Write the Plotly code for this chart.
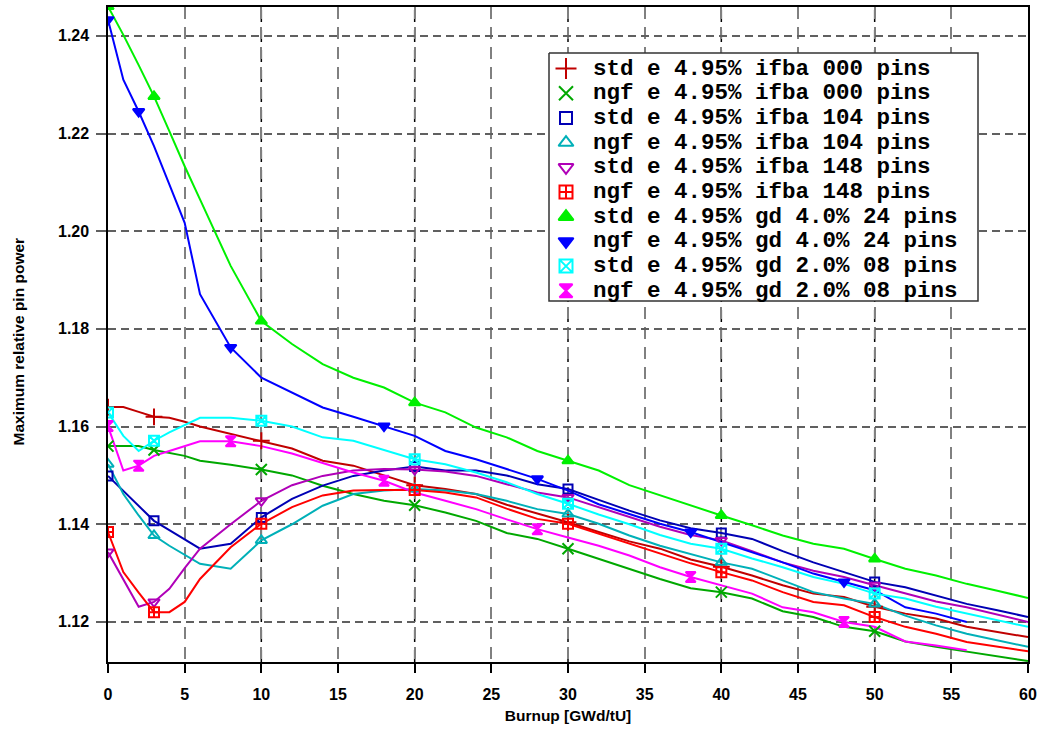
import plotly.graph_objects as go

# ---------------- data ----------------
burnup = [0, 1, 2, 3, 4, 5, 6, 8, 10, 12, 14, 16, 18, 20, 22, 24, 26, 28, 30,
          32, 34, 36, 38, 40, 42, 44, 46, 48, 50, 52, 54, 56, 58, 60]
burnup_56 = burnup[:-2]

std_ifba000 = [1.1640, 1.1640, 1.1630, 1.1620, 1.1618, 1.1610, 1.1600, 1.1585, 1.1571, 1.1555,
               1.1530, 1.1520, 1.1500, 1.1480, 1.1472, 1.1462, 1.1440, 1.1422, 1.1404, 1.1384,
               1.1365, 1.1350, 1.1328, 1.1313, 1.1295, 1.1275, 1.1258, 1.1251, 1.1231, 1.1217,
               1.1207, 1.1190, 1.1179, 1.1169]
ngf_ifba000 = [1.1560, 1.1560, 1.1560, 1.1552, 1.1546, 1.1540, 1.1530, 1.1522, 1.1512, 1.1500,
               1.1479, 1.1462, 1.1448, 1.1439, 1.1424, 1.1407, 1.1382, 1.1370, 1.1350, 1.1329,
               1.1309, 1.1288, 1.1269, 1.1261, 1.1248, 1.1222, 1.1210, 1.1190, 1.1181, 1.1160,
               1.1149, 1.1139, 1.1130, 1.1120]
std_ifba104 = [1.1499, 1.1469, 1.1438, 1.1407, 1.1388, 1.1369, 1.1350, 1.1360, 1.1414, 1.1452,
               1.1479, 1.1499, 1.1510, 1.1518, 1.1510, 1.1510, 1.1500, 1.1482, 1.1472, 1.1450,
               1.1428, 1.1408, 1.1392, 1.1382, 1.1370, 1.1345, 1.1322, 1.1302, 1.1282, 1.1271,
               1.1254, 1.1237, 1.1224, 1.1210]
ngf_ifba104 = [1.1523, 1.1462, 1.1418, 1.1377, 1.1356, 1.1337, 1.1319, 1.1309, 1.1367, 1.1400,
               1.1438, 1.1462, 1.1469, 1.1472, 1.1469, 1.1462, 1.1448, 1.1431, 1.1421, 1.1401,
               1.1377, 1.1356, 1.1339, 1.1322, 1.1309, 1.1285, 1.1261, 1.1248, 1.1237, 1.1213,
               1.1193, 1.1176, 1.1162, 1.1149]
std_ifba148 = [1.1343, 1.1288, 1.1231, 1.1241, 1.1268, 1.1310, 1.1350, 1.1400, 1.1448, 1.1480,
               1.1499, 1.1510, 1.1513, 1.1512, 1.1508, 1.1499, 1.1482, 1.1465, 1.1455, 1.1435,
               1.1415, 1.1395, 1.1378, 1.1367, 1.1345, 1.1322, 1.1305, 1.1292, 1.1275, 1.1258,
               1.1242, 1.1230, 1.1215, 1.1200]
ngf_ifba148 = [1.1384, 1.1302, 1.1260, 1.1220, 1.1220, 1.1241, 1.1288, 1.1353, 1.1401, 1.1435,
               1.1459, 1.1469, 1.1470, 1.1470, 1.1465, 1.1455, 1.1432, 1.1411, 1.1401, 1.1381,
               1.1360, 1.1340, 1.1320, 1.1302, 1.1285, 1.1261, 1.1241, 1.1234, 1.1210, 1.1190,
               1.1176, 1.1159, 1.1149, 1.1140]
std_gd4_24 = [1.2460, 1.2402, 1.2340, 1.2276, 1.2205, 1.2133, 1.2065, 1.1929, 1.1816, 1.1769,
              1.1728, 1.1700, 1.1680, 1.1649, 1.1629, 1.1598, 1.1578, 1.1550, 1.1530, 1.1510,
              1.1480, 1.1459, 1.1438, 1.1418, 1.1398, 1.1377, 1.1360, 1.1350, 1.1329, 1.1309,
              1.1295, 1.1278, 1.1264, 1.1249]
ngf_gd4_24 = [1.2433, 1.2310, 1.2245, 1.2174, 1.2096, 1.2017, 1.1871, 1.1762, 1.1700, 1.1670,
              1.1639, 1.1620, 1.1601, 1.1581, 1.1550, 1.1533, 1.1513, 1.1493, 1.1469, 1.1441,
              1.1421, 1.1401, 1.1384, 1.1363, 1.1343, 1.1322, 1.1299, 1.1282, 1.1265, 1.1230,
              1.1217, 1.1200]
std_gd2_08 = [1.1629, 1.1581, 1.1550, 1.1571, 1.1588, 1.1603, 1.1618, 1.1618, 1.1612, 1.1600,
              1.1578, 1.1571, 1.1552, 1.1533, 1.1523, 1.1506, 1.1486, 1.1462, 1.1442, 1.1420,
              1.1400, 1.1378, 1.1360, 1.1350, 1.1330, 1.1312, 1.1292, 1.1278, 1.1258, 1.1248,
              1.1231, 1.1217, 1.1203, 1.1190]
ngf_gd2_08 = [1.1601, 1.1510, 1.1520, 1.1540, 1.1550, 1.1560, 1.1570, 1.1570, 1.1560, 1.1545,
              1.1525, 1.1506, 1.1489, 1.1465, 1.1448, 1.1431, 1.1410, 1.1390, 1.1373, 1.1356,
              1.1336, 1.1312, 1.1292, 1.1275, 1.1258, 1.1230, 1.1220, 1.1200, 1.1190, 1.1160,
              1.1152, 1.1142]

marks_a = [0, 3, 10, 20, 30, 40, 50]
marks_b = [0, 2, 8, 18, 28, 38, 48]

labels = ["std e 4.95% ifba 000 pins", "ngf e 4.95% ifba 000 pins",
          "std e 4.95% ifba 104 pins", "ngf e 4.95% ifba 104 pins",
          "std e 4.95% ifba 148 pins", "ngf e 4.95% ifba 148 pins",
          "std e 4.95% gd 4.0% 24 pins", "ngf e 4.95% gd 4.0% 24 pins",
          "std e 4.95% gd 2.0% 08 pins", "ngf e 4.95% gd 2.0% 08 pins"]

x_ticks = list(range(0, 61, 5))
y_ticks = [1.12, 1.14, 1.16, 1.18, 1.20, 1.22, 1.24]
x_title = "Burnup [GWd/tU]"
y_title = "Maximum relative pin power"

# ---------------- styles ----------------
series = [
    (burnup, std_ifba000, marks_a, "#c00000", "cross-thin", 12),
    (burnup, ngf_ifba000, marks_a, "#00a800", "x-thin", 11),
    (burnup, std_ifba104, marks_a, "#0000b4", "square-open", 9),
    (burnup, ngf_ifba104, marks_a, "#00b0b8", "triangle-up-open", 10),
    (burnup, std_ifba148, marks_a, "#b000b8", "triangle-down-open", 10),
    (burnup, ngf_ifba148, marks_a, "#ff0000", "square-cross-open", 10),
    (burnup, std_gd4_24, marks_a, "#00f000", "triangle-up", 10),
    (burnup_56, ngf_gd4_24, marks_b, "#0000ff", "triangle-down", 10),
    (burnup, std_gd2_08, marks_a, "#00ffff", "square-x-open", 10),
    (burnup_56, ngf_gd2_08, marks_b, "#ff00ff", "hourglass", 10),
]

fig = go.Figure()
for (xs, ys, mk, col, sym, sz), name in zip(series, labels):
    fig.add_trace(go.Scatter(x=xs, y=ys, mode="lines", line=dict(color=col, width=2),
                             showlegend=False, name=name, hoverinfo="skip"))
for (xs, ys, mk, col, sym, sz), name in zip(series, labels):
    my = [ys[xs.index(b)] for b in mk]
    fig.add_trace(go.Scatter(x=mk, y=my, mode="markers", name=name, showlegend=False,
                             marker=dict(symbol=sym, size=sz, color=col,
                                         line=dict(color=col, width=2))))

# ---------------- legend box (drawn on an overlay axis in plot-area fractions) ----------------
PL, PR, PT, PB = 108, 1028, 7, 662          # plot area in pixels
W, H = PR - PL, PB - PT
def fx(px): return (px - PL) / W
def fy(py): return (PB - py) / H

box_l, box_r, box_t, box_b = 549, 978, 53, 301
row0, row_step = 68.5, 24.7
sym_x, text_x = 566, 591

fig.add_trace(go.Scatter(x=[fx(box_l), fx(box_r), fx(box_r), fx(box_l), fx(box_l)],
                         y=[fy(box_t), fy(box_t), fy(box_b), fy(box_b), fy(box_t)],
                         xaxis="x2", yaxis="y2", mode="lines", fill="toself",
                         fillcolor="white", line=dict(color="#333333", width=1.5),
                         showlegend=False, hoverinfo="skip"))
for i, ((xs, ys, mk, col, sym, sz), name) in enumerate(zip(series, labels)):
    fig.add_trace(go.Scatter(x=[fx(sym_x)], y=[fy(row0 + i * row_step)], xaxis="x2", yaxis="y2",
                             mode="markers", showlegend=False, hoverinfo="skip",
                             marker=dict(symbol=sym, size=sz + 3, color=col,
                                         line=dict(color=col, width=2))))

tick_font = dict(family="Liberation Sans, Arial, sans-serif", size=16, color="black", weight="bold")
title_font = dict(family="Liberation Sans, Arial, sans-serif", size=15.5, color="black", weight="bold")

annotations = []
for i, name in enumerate(labels):
    annotations.append(dict(x=fx(text_x), y=fy(row0 + i * row_step), xref="paper", yref="paper",
                            text=name, showarrow=False, xanchor="left", yanchor="middle",
                            font=dict(family="Liberation Mono, Courier New, monospace", size=22.5,
                                      color="black", weight="bold")))
# y tick labels (placed on the y scale, offset left of the ticks)
for v in y_ticks:
    annotations.append(dict(x=0, y=v, xref="paper", yref="y", text="%.2f" % v,
                            showarrow=False, xanchor="right", yanchor="middle",
                            xshift=-17, font=tick_font))
# y axis title
annotations.append(dict(x=fx(18), y=0.5, xref="paper", yref="paper", text=y_title,
                        showarrow=False, textangle=-90, xanchor="center", yanchor="middle",
                        yshift=-7, font=title_font))

# darker dashed verticals at every 10
shapes = []
for v in x_ticks:
    if v % 10 == 0 and 0 < v < 60:
        shapes.append(dict(type="line", xref="x", yref="paper", x0=v, x1=v, y0=0, y1=1,
                           line=dict(color="black", width=1.5, dash="12px,8px"),
                           layer="between"))

fig.update_layout(
    width=1039, height=733,
    margin=dict(l=PL, r=1039 - PR, t=PT, b=733 - PB),
    paper_bgcolor="white", plot_bgcolor="white",
    shapes=shapes, annotations=annotations,
    showlegend=False,
    xaxis=dict(range=[0, 60], tickvals=x_ticks, ticktext=[str(v) for v in x_ticks],
               showgrid=True, gridcolor="#808080", griddash="12px,8px", gridwidth=1.5,
               zeroline=False, showline=True, mirror=True, linecolor="black", linewidth=1.5,
               ticks="outside", ticklen=9, tickwidth=1.5, tickcolor="black",
               ticklabelstandoff=8, automargin=False,
               tickfont=tick_font,
               title=dict(text=x_title, font=title_font, standoff=8)),
    yaxis=dict(range=[1.1118, 1.2459], tickvals=y_ticks, showticklabels=False,
               showgrid=True, gridcolor="#606060", griddash="8px,5px", gridwidth=1.5,
               zeroline=False, showline=True, mirror=True, linecolor="black", linewidth=1.5,
               ticks="outside", ticklen=10, tickwidth=1.5, tickcolor="#606060",
               automargin=False),
    xaxis2=dict(overlaying="x", range=[0, 1], visible=False, fixedrange=True),
    yaxis2=dict(overlaying="y", range=[0, 1], visible=False, fixedrange=True),
)

fig.write_html("out.html", config={"displayModeBar": False},
               post_script="document.body.style.margin='0px';")
